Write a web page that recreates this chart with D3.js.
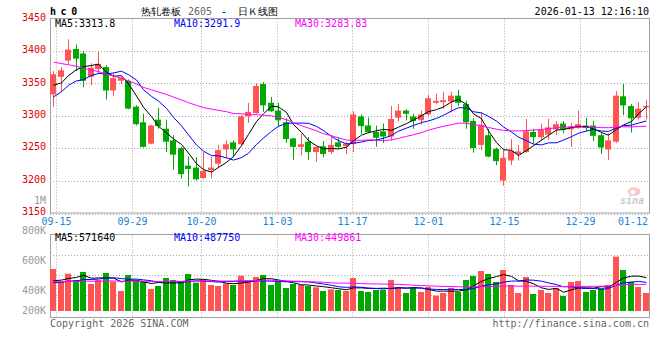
<!DOCTYPE html>
<html><head><meta charset="utf-8">
<script src="https://cdn.jsdelivr.net/npm/d3@7/dist/d3.min.js"></script>
<style>
body{margin:0;background:#fff;}
svg{display:block;}
text{font-family:"DejaVu Sans Mono",monospace;font-size:10px;}
</style></head><body>
<svg id="c" width="660" height="360"></svg>
<script>
// ---------------- DATA ----------------
const dates = ["09-12","09-15","09-16","09-17","09-18","09-19","09-22","09-23","09-24","09-25","09-26","09-29","09-30","10-09","10-10","10-13","10-14","10-15","10-16","10-17","10-20","10-21","10-22","10-23","10-24","10-27","10-28","10-29","10-30","10-31","11-03","11-04","11-05","11-06","11-07","11-10","11-11","11-12","11-13","11-14","11-17","11-18","11-19","11-20","11-21","11-24","11-25","11-26","11-27","11-28","12-01","12-02","12-03","12-04","12-05","12-08","12-09","12-10","12-11","12-12","12-15","12-16","12-17","12-18","12-19","12-22","12-23","12-24","12-25","12-26","12-29","12-30","12-31","01-05","01-06","01-07","01-08","01-09","01-12","01-13"];
const open  = [3333,3360,3385,3403,3396,3360,3372,3375,3339,3354,3354,3314,3290,3257,3294,3280,3262,3250,3223,3220,3204,3216,3226,3248,3259,3256,3299,3304,3349,3320,3308,3290,3265,3252,3260,3244,3253,3244,3259,3253,3257,3299,3285,3275,3276,3268,3297,3308,3299,3293,3302,3320,3321,3322,3331,3318,3292,3255,3270,3249,3200,3231,3241,3244,3275,3267,3271,3279,3288,3279,3281,3285,3285,3270,3248,3260,3330,3315,3297,3313];
const high  = [3369,3375,3418,3410,3400,3381,3400,3378,3366,3360,3356,3316,3303,3286,3312,3294,3270,3252,3237,3236,3244,3237,3255,3262,3262,3301,3320,3350,3352,3329,3320,3296,3266,3272,3267,3252,3261,3267,3267,3260,3307,3302,3297,3285,3288,3315,3318,3310,3303,3308,3332,3334,3337,3337,3340,3323,3296,3305,3280,3251,3247,3264,3255,3295,3280,3288,3295,3292,3292,3289,3308,3297,3292,3273,3273,3338,3349,3318,3321,3324];
const low   = [3314,3337,3380,3369,3344,3347,3365,3325,3330,3349,3310,3285,3251,3256,3280,3244,3217,3203,3191,3200,3203,3203,3219,3234,3236,3255,3289,3303,3306,3306,3283,3258,3232,3239,3232,3229,3236,3241,3250,3241,3244,3272,3273,3252,3258,3262,3291,3293,3280,3286,3300,3318,3311,3305,3315,3280,3243,3247,3236,3224,3192,3224,3231,3243,3257,3262,3263,3270,3273,3252,3280,3276,3261,3241,3232,3258,3301,3274,3294,3294];
const close = [3364,3370,3402,3388,3354,3374,3380,3339,3358,3358,3311,3287,3252,3285,3284,3260,3240,3210,3218,3202,3215,3220,3247,3256,3248,3299,3306,3346,3316,3307,3293,3264,3252,3256,3244,3252,3241,3255,3252,3257,3302,3284,3275,3266,3268,3295,3308,3303,3292,3302,3327,3323,3324,3331,3320,3290,3250,3286,3237,3230,3235,3246,3245,3276,3267,3278,3282,3287,3279,3283,3287,3281,3269,3251,3262,3331,3316,3296,3311,3315];
const volume = [741800,518000,659300,547500,688800,476800,547500,671100,518000,353200,635800,535700,518000,388500,441500,582800,547500,529800,653500,500400,565200,459200,441500,488600,459200,624000,529800,600500,635800,459200,512200,406200,476800,459200,441500,418000,353200,382700,370900,353200,582800,353200,335600,370900,370900,547500,423900,317900,406200,335600,423900,270800,317900,406200,335600,547500,618100,706400,653500,512200,724100,459200,317900,600500,300200,370900,317900,406200,264900,512200,529800,335600,370900,406200,459200,959600,724100,518100,423900,317900];
// the 29 sessions before the first visible candle (needed for the moving averages)
const priorCloses = [3440,3455,3462,3450,3445,3458,3460,3448,3445,3447,3425,3410,3398,3385,3372,3360,3350,3340,3325,3319,3290,3302,3320,3336,3307,3351,3346,3343,3331];
const priorVolumes = [560000,480000,610000,520000,450000,590000,530000,470000,540000,600000,500000,460000,580000,520000,490000,550000,510000,470000,560000,520000,480000,430000,500000,455000,460000,470000,510000,455000,498000];
const maPeriods = [5,10,30];
const priceTicks = [3450,3400,3350,3300,3250,3200,3150];
const volTickLabels = ["800K","600K","400K","200K"];
const dateTicks = ["09-15","09-29","10-20","11-03","11-17","12-01","12-15","12-29","01-12"];
const priceMaLabels = ["MA5:3313.8","MA10:3291.9","MA30:3283.83"];
const volMaLabels = ["MA5:571640","MA10:487750","MA30:449861"];
const titleParts = ["热轧卷板","2605","-","日Ｋ线图"];
const codeLabel = "hc0";
const stampLabel = "2026-01-13 12:16:10";

// ---------------- LAYOUT / STYLE ----------------
const L = 50, R = 650, T = 18.5, B = 213;
const VT = 234.5, VB = 317.5, VBASE = 311;
const UP = "#ff5454", DOWN = "#00a800";
const maColors = ["#000000","#0000ff","#ff00ff"];
const gridColor = "#aaaaaa", frameColor = "#a0a0a0";
const volLabelY = [233.5, 264, 294.3, 314.3];

const svg = d3.select("#c");
const x = d3.scaleBand().domain(dates).range([49.25, 649.25]);
const xAxisPos = d3.scaleLinear().domain([0, dates.length - 1]).range([49.4, 649.0]);
const y = d3.scaleLinear().domain([3150, 3450]).range([B, T]);
const yv = d3.scaleLinear().domain([0, 1340000]).range([VBASE, 235.1]);
const left = d => Math.round(x(d) + 0.75);

function movingAvg(prior, vals, n) {
  const all = prior.concat(vals), off = prior.length;
  return vals.map((_, i) => d3.mean(all.slice(off + i - n + 1, off + i + 1)));
}

// grid lines (main)
const g = svg.append("g");
priceTicks.filter(t => t > 3150 && t < 3450).forEach(t => {
  g.append("line").attr("x1", L).attr("x2", R).attr("y1", Math.round(y(t)) + 0.5).attr("y2", Math.round(y(t)) + 0.5)
   .attr("stroke", gridColor).attr("stroke-dasharray", "1,2");
});
// volume grid lines
[1,2,3].forEach(k => {
  const yy = 235 + k * 20 + 0.5;
  g.append("line").attr("x1", L).attr("x2", R).attr("y1", yy).attr("y2", yy)
   .attr("stroke", gridColor).attr("stroke-dasharray", "1,2");
});
// vertical date grid lines + labels
dateTicks.forEach(dt => {
  const i = dates.indexOf(dt);
  const px = Math.floor(xAxisPos(i)) + 0.5;
  if (px < R - 12) {
    g.append("line").attr("x1", px).attr("x2", px).attr("y1", T).attr("y2", B)
     .attr("stroke", gridColor).attr("stroke-dasharray", "1,2");
    g.append("line").attr("x1", px).attr("x2", px).attr("y1", VT).attr("y2", VB)
     .attr("stroke", gridColor).attr("stroke-dasharray", "1,2");
  }
  const half = 15;
  const tx = Math.min(px, R - 2 - half);
  svg.append("text").attr("x", tx).attr("y", 224.5).attr("text-anchor", "middle")
     .attr("fill", "#1a84d4").text(dt);
});

// frames
svg.append("rect").attr("x", L + 0.5).attr("y", T).attr("width", R - L - 1).attr("height", B - T)
   .attr("fill", "none").attr("stroke", frameColor);
svg.append("line").attr("x1", L).attr("x2", R).attr("y1", B + 1.5).attr("y2", B + 1.5)
   .attr("stroke", gridColor).attr("stroke-dasharray", "1,2");
svg.append("rect").attr("x", L + 0.5).attr("y", VT).attr("width", R - L - 1).attr("height", VB - VT)
   .attr("fill", "none").attr("stroke", frameColor);

// watermark
const wm = svg.append("g").attr("opacity", 0.45);
wm.append("ellipse").attr("cx", 634).attr("cy", 191.5).attr("rx", 6.5).attr("ry", 4.2).attr("fill", "#f08a8a");
wm.append("ellipse").attr("cx", 633).attr("cy", 192).attr("rx", 2.5).attr("ry", 2).attr("fill", "#fff");
wm.append("text").attr("x", 620).attr("y", 203.5).attr("font-family", "DejaVu Sans").attr("font-size", "14px")
  .attr("font-weight", "bold").attr("font-style", "italic").attr("fill", "#8a8a8a").text("sina");

// price axis labels
priceTicks.forEach(t => {
  svg.append("text").attr("x", 46).attr("y", y(t) + 2.3).attr("text-anchor", "end").attr("fill", "#e00000").text(t);
});
svg.append("text").attr("x", 46).attr("y", 204).attr("text-anchor", "end").attr("fill", "#999").text("1M");
volTickLabels.forEach((t, k) => {
  svg.append("text").attr("x", 46).attr("y", volLabelY[k]).attr("text-anchor", "end").attr("fill", "#999").text(t);
});

// candles
const idx = d3.range(dates.length);
const cg = svg.append("g");
cg.selectAll("rect.wick").data(idx).join("rect").attr("class", "wick")
  .attr("x", i => left(dates[i]) + 3).attr("width", 1)
  .attr("y", i => y(high[i])).attr("height", i => Math.max(1, y(low[i]) - y(high[i])))
  .attr("fill", i => close[i] >= open[i] ? UP : DOWN);
cg.selectAll("rect.body").data(idx).join("rect").attr("class", "body")
  .attr("x", i => left(dates[i])).attr("width", 6)
  .attr("y", i => y(Math.max(open[i], close[i])))
  .attr("height", i => Math.max(1, Math.abs(y(open[i]) - y(close[i]))))
  .attr("fill", i => close[i] >= open[i] ? UP : DOWN);

// volume bars
cg.selectAll("rect.vol").data(idx).join("rect").attr("class", "vol")
  .attr("x", i => left(dates[i])).attr("width", 6)
  .attr("y", i => yv(volume[i])).attr("height", i => VBASE - yv(volume[i]))
  .attr("fill", i => close[i] >= open[i] ? UP : DOWN);

// moving averages
maPeriods.forEach((n, k) => {
  const mp = movingAvg(priorCloses, close, n);
  const mv = movingAvg(priorVolumes, volume, n);
  const ln = yy => d3.line().x(i => left(dates[i]) + 3.5).y(i => yy(i));
  svg.append("path").datum(idx).attr("d", ln(i => y(mp[i])))
     .attr("fill", "none").attr("stroke", maColors[k]).attr("stroke-width", 1);
  svg.append("path").datum(idx).attr("d", ln(i => yv(mv[i])))
     .attr("fill", "none").attr("stroke", maColors[k]).attr("stroke-width", 1);
});

// MA legends
const legX = [55, 174, 295];
priceMaLabels.forEach((t, k) => svg.append("text").attr("x", legX[k]).attr("y", 27).attr("fill", maColors[k]).text(t));
volMaLabels.forEach((t, k) => svg.append("text").attr("x", legX[k]).attr("y", 241).attr("fill", maColors[k]).text(t));

// header
svg.append("text").attr("x", 50).attr("y", 15).attr("font-size", "12px").attr("font-weight", "bold")
   .attr("letter-spacing", "4.6px").attr("fill", "#000").text(codeLabel);
const cjk = '"Noto Sans CJK SC", sans-serif';
svg.append("text").attr("x", 140.5).attr("y", 14.5).attr("font-family", cjk).attr("font-size", "12px").attr("fill", "#000").text(titleParts[0]);
svg.append("text").attr("x", 188).attr("y", 14.5).attr("font-family", "Liberation Sans").attr("font-size", "11px").attr("fill", "#666").text(titleParts[1]);
svg.append("text").attr("x", 224).attr("y", 14.5).attr("text-anchor", "middle").attr("font-family", cjk).attr("font-size", "12px").attr("fill", "#000").text(titleParts[2]);
svg.append("text").attr("x", 237.5).attr("y", 14.5).attr("font-family", cjk).attr("font-size", "12px").attr("fill", "#000").text(titleParts[3]);
svg.append("text").attr("x", 649).attr("y", 15).attr("text-anchor", "end").attr("fill", "#000").text(stampLabel);

// footer
svg.append("text").attr("x", 50).attr("y", 327).attr("fill", "#666").text("Copyright 2026 SINA.COM");
svg.append("text").attr("x", 649).attr("y", 327).attr("text-anchor", "end").attr("fill", "#666").text("http://finance.sina.com.cn");
</script>
</body></html>
